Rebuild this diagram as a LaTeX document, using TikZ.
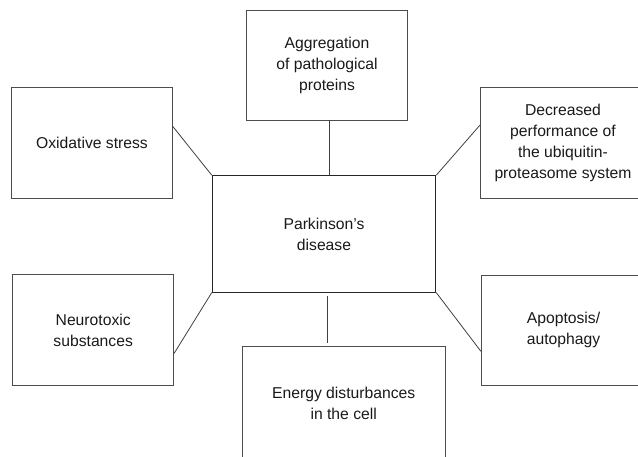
\documentclass[tikz,border=0pt]{standalone}
\usepackage{fontspec}
\setmainfont{Liberation Sans}
\usetikzlibrary{calc}
\begin{document}
\begin{tikzpicture}[x=1pt,y=-1pt,
  box/.style={draw=black!70,line width=0.8pt,inner sep=0pt,align=center,
    font=\fontsize{15.7}{21}\selectfont,text=black!90},
  link/.style={draw=black!75,line width=0.8pt}]
\useasboundingbox (0,0) rectangle (638,456);
\node[box,minimum width=160.6,minimum height=110] (agg) at (327,65) {Aggregation\\of pathological\\proteins};
\node[box,minimum width=160.6,minimum height=110.6] (oxid) at (92,143) {Oxidative stress};
\node[box,minimum width=165.4,minimum height=110.6] (dec) at (563,143) {Decreased\\performance of\\the ubiquitin-\\proteasome system};
\node[box,draw=black!85,line width=1.1pt,minimum width=223.4,minimum height=116.3] (ctr) at (324,233.9) {Parkinson’s\\disease};
\node[box,minimum width=161,minimum height=110.6] (neuro) at (93.2,330) {Neurotoxic\\substances};
\node[box,minimum width=164.4,minimum height=110.3] (apop) at (563.5,330.2) {Apoptosis/\\autophagy};
\node[box,minimum width=203.3,minimum height=114] (energy) at (343.7,403.7) {Energy disturbances\\in the cell};
\draw[link] ($(oxid.north east)!0.35!(oxid.south east)$) -- (ctr.north west);
\draw[link] ($(dec.north west)!0.34!(dec.south west)$) -- (ctr.north east);
\draw[link] ($(neuro.north east)!0.71!(neuro.south east)$) -- (ctr.south west);
\draw[link] ($(apop.north west)!0.69!(apop.south west)$) -- (ctr.south east);
\draw[link] ([xshift=2pt]agg.south) -- ([xshift=2pt]agg.south |- ctr.north);
\draw[link,shorten <=3.5pt,shorten >=3.5pt] ([xshift=3pt]ctr.south) -- ([xshift=3pt]ctr.south |- energy.north);
\end{tikzpicture}
\end{document}
